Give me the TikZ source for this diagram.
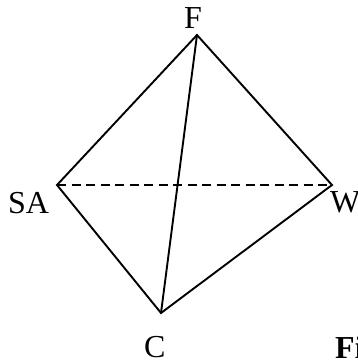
\documentclass[tikz,border=0pt]{standalone}
\usepackage{fontspec}
\setmainfont{Liberation Serif}
\tikzset{lab/.style={inner sep=0pt,font=\fontsize{32}{32}\selectfont,anchor=base west},edge/.style={line width=1.9pt,line cap=round,line join=miter}}
\begin{document}
\begin{tikzpicture}[x=1pt,y=-1pt]
\useasboundingbox (0,0) rectangle (358,362);
\coordinate (f) at (197,35);
\coordinate (sa) at (57,185);
\coordinate (w) at (332,185);
\coordinate (c) at (161,313);
\draw[edge] (f) -- (sa) -- (c) -- (w) -- cycle;
\draw[edge] (f) -- (c);
\draw[edge,line cap=butt,line width=1.7pt,dash pattern=on 9pt off 5.5pt] (sa) -- (w);
\node[lab] (lf) at (184,28) {F};
\node[lab] (lsa) at (8,213) {SA};
\node[lab] (lw) at (330,212) {W};
\node[lab] (lc) at (144,357) {C};
\node[lab] (lfi) at (335,358) {\textbf{Fi}};
\end{tikzpicture}
\end{document}
